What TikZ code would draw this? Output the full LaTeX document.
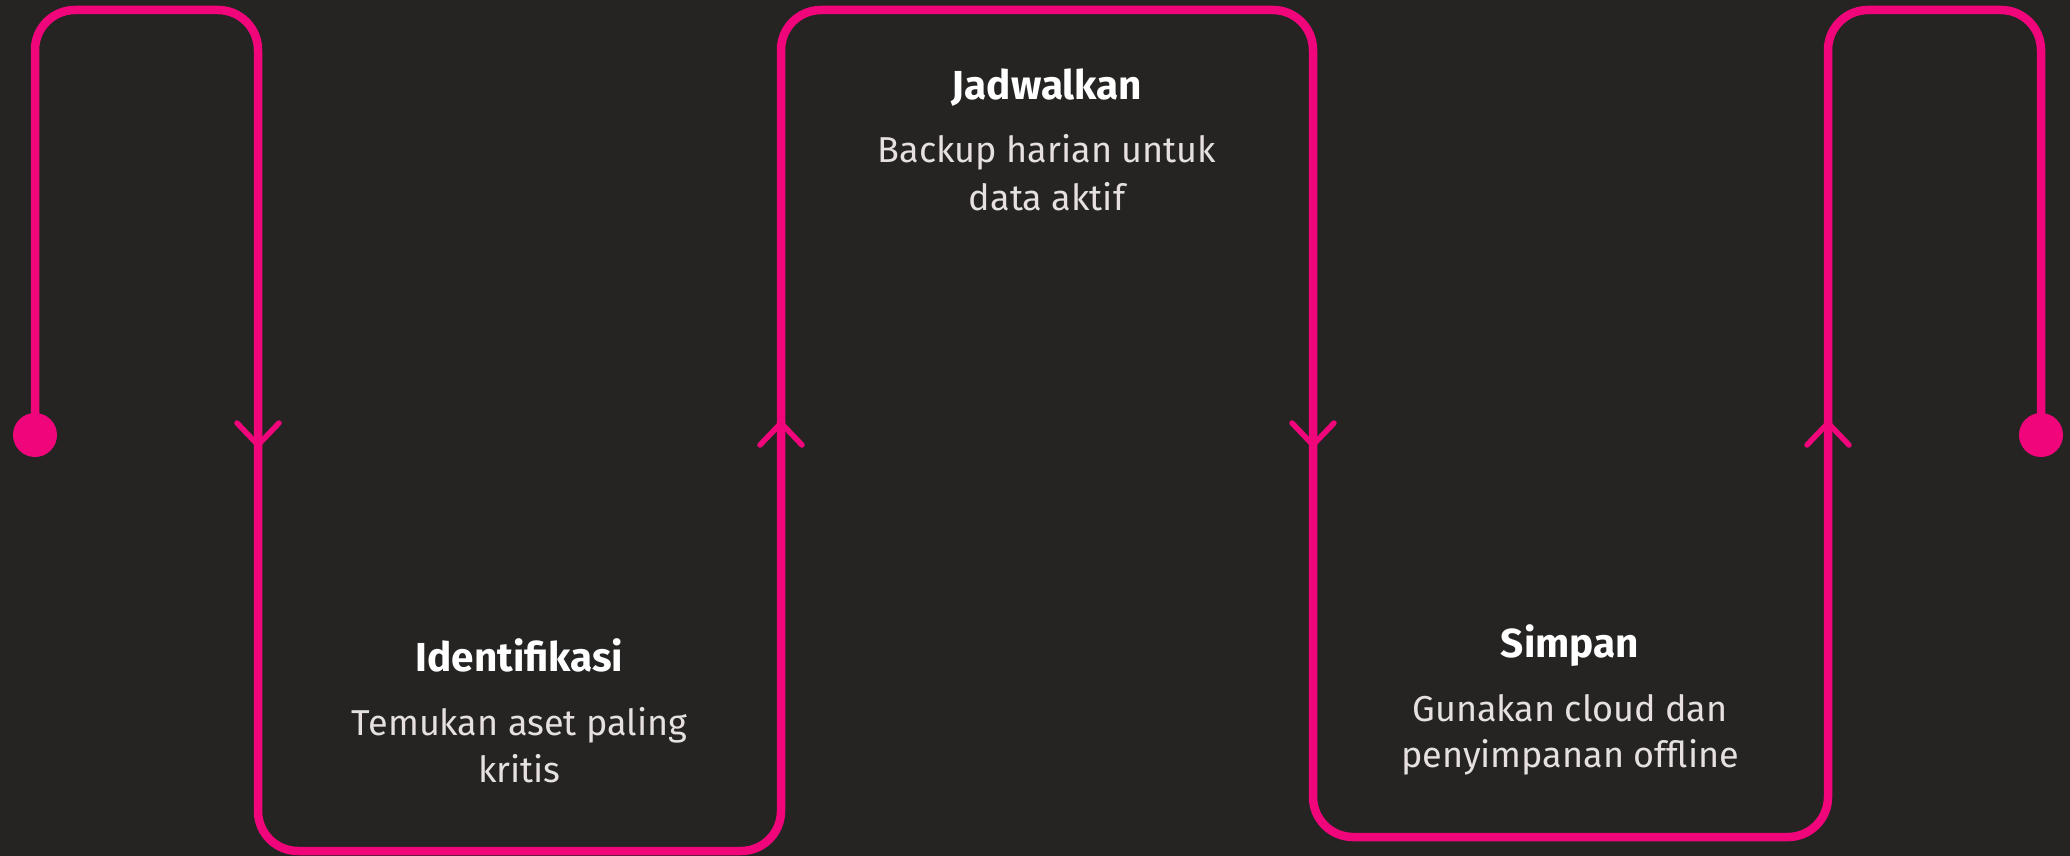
\documentclass[tikz,border=0pt]{standalone}
\usepackage{fontspec}
\setmainfont{Fira Sans}
\usetikzlibrary{calc}
\definecolor{bgc}{HTML}{252423}
\definecolor{pinkc}{HTML}{F0067A}
\definecolor{bodyc}{HTML}{E6E1DF}
\begin{document}
\begin{tikzpicture}[x=1pt,y=-1pt,
  flow/.style={draw=pinkc,line width=8.5pt,rounded corners=40pt},
  chev/.style={draw=pinkc,line width=5.5pt,line cap=round,line join=round},
  dotc/.style={circle,fill=pinkc,minimum size=44pt,inner sep=0pt},
  ttl/.style={font=\fontsize{40.5}{48}\selectfont\bfseries,text=white,inner sep=0pt,anchor=base},
  bdy/.style={font=\fontsize{36}{47}\selectfont,text=bodyc,inner sep=0pt,anchor=base}]
\fill[bgc] (0,0) rectangle (2070,856);
\useasboundingbox (0,0) rectangle (2070,856);
% endpoints
\node[dotc] (s) at (35,435) {};
\node[dotc] (e) at (2041,435) {};
% corners
\coordinate (p1) at (35,10);
\coordinate (p2) at (258,10);
\coordinate (p3) at (258,851);
\coordinate (p4) at (781,851);
\coordinate (p5) at (781,10);
\coordinate (p6) at (1313,10);
\coordinate (p7) at (1313,837);
\coordinate (p8) at (1828,837);
\coordinate (p9) at (1828,10);
\coordinate (p10) at (2041,10);
\draw[flow] (s.center) -- (p1) -- (p2) -- (p3) -- (p4) -- (p5) -- (p6) -- (p7) -- (p8) -- (p9) -- (p10) -- (e.center);
% chevrons
\coordinate (a1) at (258,445);
\coordinate (a2) at (781,423);
\coordinate (a3) at (1313,445);
\coordinate (a4) at (1828,423);
\draw[chev] ($(a1)+(-21,-22)$) -- (a1) -- ($(a1)+(21,-22)$);
\draw[chev] ($(a2)+(-21,22)$) -- (a2) -- ($(a2)+(21,22)$);
\draw[chev] ($(a3)+(-21,-22)$) -- (a3) -- ($(a3)+(21,-22)$);
\draw[chev] ($(a4)+(-21,22)$) -- (a4) -- ($(a4)+(21,22)$);
% texts
\node[ttl] (t1) at (519.5,671) {Identifikasi};
\node[bdy] (b1a) at (519.5,735) {Temukan aset paling};
\node[bdy] (b1b) at (519.5,782) {kritis};
\node[ttl] (t2) at (1047,100) {Jadwalkan};
\node[bdy] (b2a) at (1047,163) {Backup harian untuk};
\node[bdy] (b2b) at (1047,210) {data aktif};
\node[ttl] (t3) at (1570,657) {Simpan};
\node[bdy] (b3a) at (1570,721) {Gunakan cloud dan};
\node[bdy] (b3b) at (1570,767) {penyimpanan offline};
\end{tikzpicture}
\end{document}
